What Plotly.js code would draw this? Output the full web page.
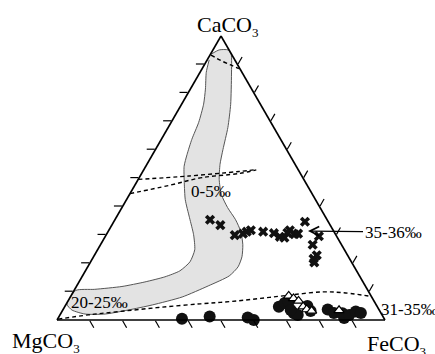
<!DOCTYPE html>
<html><head><meta charset="utf-8">
<script src="https://cdn.plot.ly/plotly-3.0.1.min.js"></script>
<style>html,body{margin:0;padding:0;background:#fff;}#chart{width:435px;height:354px;}</style>
</head><body><div id="chart"></div>
<script>
// ---- data (percent CaCO3 / MgCO3 / FeCO3) ----
const regionCa = [93.6,95.1,95.1,93.6,86.6,76.0,67.8,60.1,54.8,49.5,44.2,39.6,35.3,31.1,26.5,22.3,18.7,15.5,12.0,8.1,5.3,3.5,2.1,2.1,3.5,5.6,10.4,10.8,11.8,13.4,15.2,17.3,20.5,24.7,30.0,36.0,42.4,48.4,54.1,58.3,63.6,69.6,76.0,81.3,87.3,91.5];
const regionMg = [6.2,3.0,0.3,0.1,3.5,9.1,14.0,19.4,22.9,25.8,27.8,28.2,27.9,28.4,30.1,32.5,35.4,39.7,47.9,57.8,68.3,76.6,84.3,90.4,93.7,94.2,89.1,83.1,74.3,66.5,59.5,53.9,49.2,45.6,43.3,41.6,39.7,37.0,34.2,31.2,27.1,22.0,17.3,14.1,10.9,7.8];
const regionFe = [0.2,1.9,4.6,6.3,9.9,15.0,18.2,20.6,22.3,24.7,28.0,32.2,36.8,40.5,43.4,45.3,45.8,44.7,40.1,34.1,26.4,19.9,13.6,7.5,2.8,0.2,0.5,6.1,13.9,20.1,25.3,28.8,30.3,29.6,26.6,22.4,17.9,14.6,11.7,10.5,9.3,8.4,6.7,4.6,1.9,0.6];

const dashTopCa = [93.3,91.3,89.8,88.5];
const dashTopMg = [6.4,4.3,2.0,0.3];
const dashTopFe = [0.3,4.4,8.3,11.2];

const dashUpCa = [49.5,50.7,52.3,53.0];
const dashUpMg = [50.5,34.4,18.3,12.8];
const dashUpFe = [0.0,14.9,29.4,34.3];

const dashLowCa = [44.5,47.4,50.2,51.6,52.8];
const dashLowMg = [55.5,42.1,30.7,18.6,12.8];
const dashLowFe = [0.0,10.5,19.2,29.8,34.3];

const dashBotCa = [0.3,1.8,3.0,4.4,5.7,6.5,7.6,8.8,9.9,9.5,8.3];
const dashBotMg = [99.5,89.6,79.3,66.9,53.5,43.9,34.2,24.4,14.1,7.2,0.0];
const dashBotFe = [0.2,8.6,17.7,28.7,40.9,49.6,58.2,66.8,76.0,83.2,91.7];

const crossCa = [35.3,33.4,29.9,30.4,31.1,31.6,31.1,30.6,29.3,29.0,30.7,31.6,30.2,30.4,34.6,29.5,26.5,22.8,21.6,20.3];
const crossMg = [35.7,33.5,30.9,28.1,26.6,25.1,21.6,18.6,17.4,16.2,14.4,13.2,12.5,11.3,7.1,5.4,8.8,9.4,11.0,11.4];
const crossFe = [29.0,33.1,39.3,41.5,42.3,43.3,47.3,50.9,53.3,54.9,54.9,55.2,57.3,58.3,58.3,65.1,64.7,67.8,67.5,68.3];

const dotCa = [0.4,1.2,0.9,0.0,4.7,6.0,6.4,2.4,1.8,4.9,3.2,3.5,3.7,2.5,2.4,0.7,1.8,3.0,2.5];
const dotMg = [61.7,52.8,41.4,40.0,30.0,27.6,26.2,26.6,25.7,21.2,21.1,27.0,15.6,14.3,11.8,12.1,10.0,7.4,6.1];
const dotFe = [37.9,45.9,57.7,60.0,65.3,66.4,67.5,71.1,72.5,73.9,75.8,69.5,80.7,83.2,85.9,87.2,88.2,89.6,91.4];

const triCa = [8.5,7.6,6.7,4.7,3.7,3.2,3.4];
const triMg = [25.1,24.1,23.0,22.6,22.0,20.8,12.3];
const triFe = [66.4,68.3,70.3,72.7,74.3,76.1,84.3];

const sub3 = '<sub><span style="font-size:13px">3</span></sub>';
const vertexLabels = ['CaCO' + sub3, 'MgCO' + sub3, 'FeCO' + sub3];
const zoneLabels = ['0-5‰','20-25‰','35-36‰','31-35‰'];
const tickVals = [10,20,30,40,50,60,70,80,90];

// ---- layout helpers ----
const W = 435, H = 354;
const M = {l:57, r:50, t:36, b:34};
const pw = W - M.l - M.r, ph = H - M.t - M.b;
const fx = x => (x - M.l) / pw;
const fy = y => (H - M.b - y) / ph;
const serif = 'Liberation Serif, Times New Roman, serif';

const dashLine = (a,b,c) => ({type:'scatterternary', mode:'lines', a:a, b:b, c:c,
  line:{color:'#000', width:1.4, dash:'4px,3px', shape:'spline'}, hoverinfo:'skip', cliponaxis:false});

const traces = [
  {type:'scatterternary', mode:'lines', a:regionCa, b:regionMg, c:regionFe, fill:'toself',
   fillcolor:'#e3e3e3', line:{color:'#555', width:1, shape:'spline', smoothing:0.6}, hoverinfo:'skip'},
  dashLine(dashTopCa, dashTopMg, dashTopFe),
  dashLine(dashUpCa, dashUpMg, dashUpFe),
  dashLine(dashLowCa, dashLowMg, dashLowFe),
  dashLine(dashBotCa, dashBotMg, dashBotFe),
  {type:'scatterternary', mode:'markers', a:dotCa, b:dotMg, c:dotFe, cliponaxis:false,
   marker:{symbol:'circle', size:12, color:'#111', line:{width:0}}},
  {type:'scatterternary', mode:'markers', a:triCa, b:triMg, c:triFe, cliponaxis:false,
   marker:{symbol:'triangle-up', size:9, color:'#fff', line:{width:1.2, color:'#000'}}},
  {type:'scatterternary', mode:'markers', a:crossCa, b:crossMg, c:crossFe, cliponaxis:false,
   marker:{symbol:'x', size:9, color:'#111', line:{width:0}}}
];

const axisBase = {showgrid:false, showticklabels:false, ticks:'outside', ticklen:8, tickwidth:1.2,
  tickcolor:'#000', showline:true, linecolor:'#000', linewidth:1.6, tickmode:'array',
  tickvals:tickVals, title:{text:''}, min:0};

const ann = (text, x, y, size, extra) => Object.assign({text:text, xref:'paper', yref:'paper',
  x:fx(x), y:fy(y), showarrow:false, font:{family:serif, size:size, color:'#000'},
  xanchor:'center', yanchor:'middle'}, extra || {});

const layout = {
  width:W, height:H, margin:M, paper_bgcolor:'#fff', showlegend:false,
  ternary:{sum:100, bgcolor:'#fff', domain:{x:[0,1], y:[0,1]},
    aaxis:axisBase, baxis:axisBase, caxis:axisBase},
  annotations:[
    ann(vertexLabels[0], 228, 26, 22),
    ann(vertexLabels[1], 46, 342, 22),
    ann(vertexLabels[2], 396, 345, 22),
    ann(zoneLabels[0], 211, 192, 17),
    ann(zoneLabels[1], 99, 302, 17),
    ann(zoneLabels[2], 308, 231, 17, {showarrow:true, ax:85, ay:1, arrowhead:5,
      arrowsize:1.5, arrowwidth:1.2, arrowcolor:'#000'}),
    ann(zoneLabels[3], 379, 309, 17, {xanchor:'left'})
  ]
};

Plotly.newPlot('chart', traces, layout, {staticPlot:true, displayModeBar:false});
</script></body></html>
